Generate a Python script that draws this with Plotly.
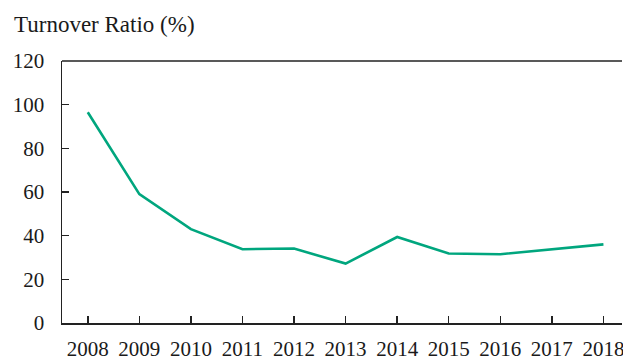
import plotly.graph_objects as go

years = ["2008", "2009", "2010", "2011", "2012", "2013", "2014", "2015", "2016", "2017", "2018"]
turnover = [96.5, 59.0, 43.0, 33.8, 34.1, 27.2, 39.4, 31.8, 31.5, 33.8, 36.0]
y_ticks = [0, 20, 40, 60, 80, 100, 120]

FONT = "Liberation Serif"

fig = go.Figure()
fig.add_trace(go.Scatter(
    x=list(range(len(years))), y=turnover, mode="lines",
    line=dict(color="#00A67E", width=2.6), hoverinfo="skip",
))

fig.update_layout(
    width=623, height=362,
    margin=dict(l=62, r=1, t=61, b=39),
    paper_bgcolor="white", plot_bgcolor="white",
    showlegend=False,
    font=dict(family=FONT, size=21, color="#1a1a1a"),
)
fig.update_xaxes(
    range=[-0.5, 10.36], automargin=False,
    tickmode="array", tickvals=list(range(len(years))), ticktext=years,
    showgrid=False, zeroline=False,
    showline=True, linecolor="#222", linewidth=1.5, mirror=False,
    ticks="inside", ticklen=7, tickwidth=1.5, tickcolor="#222",
    ticklabelstandoff=6, ticklabeloverflow="allow",
)
fig.update_yaxes(
    range=[0, 120], tickmode="array", tickvals=y_ticks, automargin=False,
    showgrid=False, zeroline=False,
    showline=True, linecolor="#222", linewidth=1.5,
    ticks="inside", ticklen=7, tickwidth=1.5, tickcolor="#222",
    ticklabelstandoff=12,
)
# top border line
fig.add_shape(type="line", xref="paper", yref="paper", x0=0, x1=1, y0=1, y1=1,
              line=dict(color="#222", width=1.5))
fig.add_annotation(
    text="Turnover Ratio (%)", xref="paper", yref="paper",
    x=-50/560, y=1 + 37/262, xanchor="left", yanchor="middle",
    showarrow=False, font=dict(family=FONT, size=23, color="#1a1a1a"),
)

# remove the default page margin so the 623x362 figure fills the window exactly
fig.write_html(
    "out.html",
    config={"displayModeBar": False, "staticPlot": True},
    post_script="document.body.style.margin='0';document.body.style.overflow='hidden';",
)
